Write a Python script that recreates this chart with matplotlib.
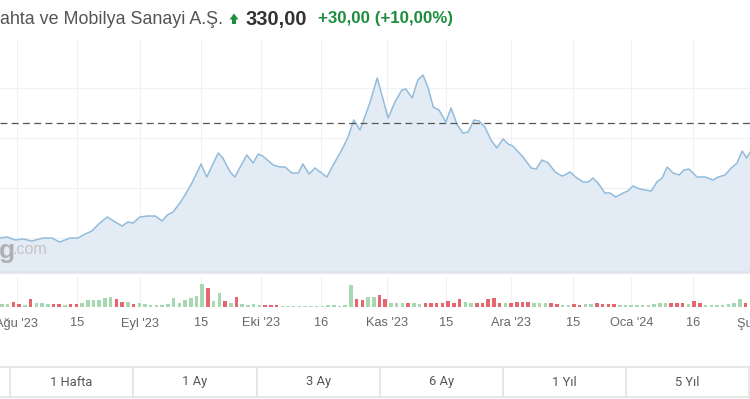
import matplotlib
matplotlib.use("Agg")
import matplotlib.pyplot as plt
from matplotlib.lines import Line2D
from matplotlib.patches import Polygon

# ---------------- data ----------------
price_day = [-0.35, 0.9, 2.3, 3.7, 5.2, 7.2, 8.7, 10.1, 11.9, 13.3, 14.2, 15.7, 17.1, 18.4,
             19.8, 21.0, 22.0, 22.9, 24.1, 25.4, 26.8, 28.0, 28.9, 29.9, 31.1, 32.0, 33.2,
             34.8, 35.8, 37.8, 38.6, 39.9, 40.7, 42.8, 43.9, 44.8, 45.6, 47.4, 48.6, 49.5,
             50.7, 51.8, 52.6, 53.7, 54.7, 56.8, 57.9, 59.4, 60.5, 61.5, 62.6, 64.3, 65.6,
             67.5, 68.7, 69.9, 70.6, 71.7, 72.7, 73.6, 74.5, 75.4, 76.4, 77.6, 78.5, 79.6,
             80.6, 81.5, 82.5, 83.4, 84.4, 85.5, 86.5, 87.6, 88.5, 89.3, 91.1, 92.5, 93.4,
             94.4, 95.5, 96.7, 97.9, 98.4, 99.3, 100.5, 101.6, 102.5, 103.3, 104.2, 105.4,
             106.3, 107.3, 108.6, 109.4, 110.3, 111.5, 112.4, 113.5, 114.5, 115.4, 116.3,
             117.3, 118.4, 119.2, 120.1, 121.5, 122.9, 123.4, 124.3, 125.2, 126.4, 127.5,
             128.5, 129.4, 130.2, 130.8]
price = [100, 102, 96, 98, 94, 100, 100, 92, 100, 100, 106, 114, 130, 142,
         132, 124, 132, 130, 142, 144, 144, 134, 146, 152, 170, 186, 210,
         248, 222, 270, 260, 232, 222, 266, 250, 268, 264, 246, 242, 242,
         230, 230, 248, 228, 240, 222, 246, 276, 302, 336, 316, 370, 420,
         340, 372, 396, 398, 380, 416, 426, 400, 362, 356, 332, 360, 326,
         310, 312, 336, 334, 322, 296, 280, 298, 288, 284, 262, 240, 238,
         256, 250, 232, 224, 226, 232, 220, 212, 212, 220, 210, 190,
         190, 182, 190, 194, 204, 198, 196, 194, 212, 220, 242,
         230, 226, 236, 238, 222, 222, 220, 216, 222, 226, 240,
         250, 274, 260, 272]
ref_price = 330

volume = [2.7, 2.7, 5.3, 2.7, 1.7, 7.7, 3.7, 3.7, 3.3, 3.3, 3.3, 1.7, 2.7, 2.7, 3.7, 6.7,
          6.7, 6.7, 8.7, 10.3, 7.7, 5.3, 5.3, 2.7, 3.7, 2.7, 1.7, 1.7, 1.7, 3.3, 9.3, 3.7,
          6.7, 8.7, 11.0, 22.7, 18.7, 6.0, 14.3, 6.0, 4.3, 10.0, 2.7, 1.7, 2.7, 2.3, 2.3,
          1.7, 1.7, 0.6, 0.6, 0.6, 0.6, 0.6, 0.6, 0.6, 0.6, 1.7, 1.7, 1.0, 1.7, 21.7, 7.7,
          7.3, 10.0, 10.5, 12.0, 7.7, 4.3, 3.7, 3.7, 3.7, 3.7, 2.7, 3.7, 3.7, 4.3, 4.3, 6.0,
          4.3, 7.7, 5.0, 3.7, 4.3, 3.7, 7.7, 8.7, 4.3, 4.3, 3.7, 5.0, 5.0, 5.0, 4.3, 3.7,
          3.7, 3.7, 2.7, 1.7, 1.7, 3.3, 1.7, 2.7, 2.7, 3.7, 2.7, 2.7, 2.7, 1.7, 1.7, 1.7,
          1.7, 1.7, 1.7, 3.3, 3.7, 3.7, 3.7, 3.7, 3.7, 2.7, 6.0, 3.7, 1.7, 1.7, 1.7, 1.7,
          2.7, 3.7, 8.0, 4.0]
vol_dir = ("GGRRGRGGGR" "RGRRGGGGGG" "RRGRGGGGGG" "GGGGGGRGGR" "GRGGGGRRRG"
           "GGGGGGGGGG" "GGRRGGRRGG" "GRGGRRRRRR" "RGGRRRRRGR" "RRRGGGRRGG"
           "RRGGRRRRGG" "GGGGGGGRRR" "GRRGGGGGGGR")

tick_pos = [2.6, 13.1, 24.1, 34.8, 45.3, 55.8, 67.3, 77.6, 89.0, 99.8, 110.0, 120.8]
tick_labels = ["Ağu '23", "15", "Eyl '23", "15", "Eki '23", "16", "Kas '23", "15",
               "Ara '23", "15", "Oca '24", "16"]
last_tick_pos = 132.3
last_tick_label = "Şub '24"

buttons = ["1 Hafta", "1 Ay", "3 Ay", "6 Ay", "1 Yıl", "5 Yıl"]

title_name = "ahta ve Mobilya Sanayi A.Ş."
title_price = "330,00"
title_change = "+30,00 (+10,00%)"

# ---------------- figure ----------------
W, H = 750, 399
fig = plt.figure(figsize=(W / 100, H / 100), dpi=100)
fig.patch.set_facecolor("white")

def fx(px):
    return px / W

def fy(py):
    return 1 - py / H

FONT = ["Liberation Sans", "DejaVu Sans"]
GRID = "#f0f1f3"
GREEN = "#1e8e3e"
XMIN, XMAX = -0.35, 130.77

# price axes: y from 40 to 272 px
ax = fig.add_axes([0, fy(272), 1, (272 - 40) / H])
ax.set_xlim(XMIN, XMAX)
ax.set_ylim(32, 496)
ax.fill_between(price_day, price, 32, color="#e3ecf5", lw=0)
ax.plot(price_day, price, color="#93bcdc", lw=1.1, solid_joinstyle="round")
ax.axhline(ref_price, color="#555555", lw=0.9, ls=(0, (5.5, 3.5)))
for v in [100, 200, 300, 400]:
    ax.axhline(v, color=GRID, lw=0.8, zorder=0)
for t in tick_pos:
    ax.axvline(t, color=GRID, lw=0.8, zorder=0)
ax.set_xticks([])
ax.set_yticks([])
for s in ["top", "left", "right"]:
    ax.spines[s].set_visible(False)
ax.spines["bottom"].set_color("#dde3e9")
ax.spines["bottom"].set_linewidth(1.8)

# watermark
ax.text(fx(-1.5), fy(251), "g", transform=fig.transFigure, fontsize=19, fontweight="bold",
        color="#b0b0b0", family=FONT, va="center", ha="left")
ax.text(fx(12.5), fy(249), ".com", transform=fig.transFigure, fontsize=11.5,
        color="#c4c4c4", family=FONT, va="center", ha="left")

# volume axes: baseline 307, top 277
axv = fig.add_axes([0, fy(307), 1, 30 / H])
axv.set_xlim(XMIN, XMAX)
axv.set_ylim(0, 30)
cols = ["#a7d8b2" if c == "G" else "#e5666f" for c in vol_dir]
axv.bar(range(len(volume)), volume, width=0.62, color=cols, lw=0)
for t in tick_pos:
    axv.axvline(t, color=GRID, lw=0.8, zorder=0)
axv.set_xticks([])
axv.set_yticks([])
for s in axv.spines.values():
    s.set_visible(False)
axv.patch.set_alpha(0)

# x tick labels
for t, lab in zip(tick_pos + [last_tick_pos], tick_labels + [last_tick_label]):
    axv.text(t, -0.55, lab, transform=axv.get_xaxis_transform(), ha="center", va="center",
             fontsize=9.2, color="#666666", family=FONT, clip_on=False)

# header
fig.text(fx(0), fy(19), title_name, fontsize=12.9, color="#555555", family=FONT,
         ha="left", va="center")
arrow_px = [(229.5, 19.5), (234, 13.5), (238.5, 19.5), (236, 19.5), (236, 24),
            (232, 24), (232, 19.5)]
fig.add_artist(Polygon([(fx(a), fy(b)) for a, b in arrow_px], closed=True,
                       transform=fig.transFigure, color=GREEN, lw=0))
fig.text(fx(245), fy(19), title_price, fontsize=14.5, color="#333333", family=FONT,
         fontweight="bold", ha="left", va="center")
fig.text(fx(318), fy(19), title_change, fontsize=12.2, color=GREEN, family=FONT,
         fontweight="bold", ha="left", va="center")

# button bar
lc = "#e3e3e3"
fig.add_artist(Line2D([0, 1], [fy(367), fy(367)], color=lc, lw=1.2))
fig.add_artist(Line2D([0, 1], [fy(397), fy(397)], color=lc, lw=1.2))
dividers = [10, 133, 257, 380, 503, 626, 749]
for d in dividers:
    fig.add_artist(Line2D([fx(d), fx(d)], [fy(367), fy(397)], color=lc, lw=1.2))
for i, b in enumerate(buttons):
    cx = (dividers[i] + dividers[i + 1]) / 2
    fig.text(fx(cx), fy(382), b, fontsize=9.3, color="#555555", family=["Roboto", "DejaVu Sans"],
             ha="center", va="center")

fig.savefig("out.png", dpi=100)
